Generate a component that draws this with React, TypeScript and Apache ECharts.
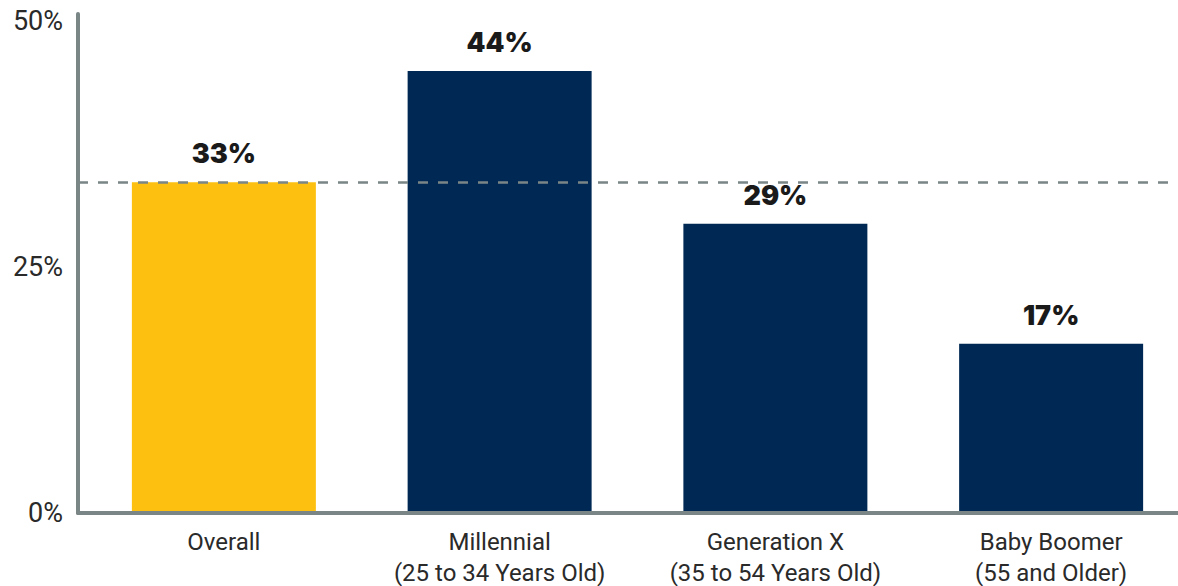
import React, { useEffect, useRef } from "react";
import * as echarts from "echarts";

const categories = [
  "Overall",
  "Millennial\n(25 to 34 Years Old)",
  "Generation X\n(35 to 54 Years Old)",
  "Baby Boomer\n(55 and Older)",
];
const values = [33.6, 44.9, 29.4, 17.2];
const valueLabels = ["33%", "44%", "29%", "17%"];
const barColors = ["#FDC010", "#002855", "#002855", "#002855"];
const yTicks = [0, 25, 50];
const yMax = 50.7;

export default function App() {
  const ref = useRef<HTMLDivElement>(null);
  useEffect(() => {
    if (!ref.current) return;
    const chart = echarts.init(ref.current, null, { renderer: "svg" });
    const axisColor = "#7A8585";
    chart.setOption({
      animation: false,
      grid: [
        { left: 78, right: 9, top: 14, bottom: 73, outerBoundsMode: "none", containLabel: false },
        { left: 86, width: 1103, top: 14, bottom: 73, outerBoundsMode: "none", containLabel: false },
      ],
      xAxis: [
        {
          type: "category",
          gridIndex: 0,
          data: categories,
          z: 5,
          axisLine: { show: true, lineStyle: { color: axisColor, width: 4 } },
          axisTick: { show: false },
          axisLabel: { show: false },
        },
        {
          type: "category",
          gridIndex: 1,
          data: categories,
          z: 5,
          axisLine: { show: true, lineStyle: { color: axisColor, width: 4 } },
          axisTick: { show: false },
          axisLabel: {
            interval: 0,
            hideOverlap: false,
            color: "#2a2a2a",
            fontFamily: "Roboto",
            fontSize: 24,
            lineHeight: 31,
            margin: 13,
          },
        },
      ],
      yAxis: [
        {
          type: "value",
          gridIndex: 0,
          min: 0,
          max: yMax,
          z: 5,
          axisLine: { show: true, lineStyle: { color: axisColor, width: 4 } },
          axisTick: { show: false },
          splitLine: { show: false },
          axisLabel: {
            customValues: yTicks,
            formatter: (v: number) => `${v}%`,
            color: "#2a2a2a",
            fontFamily: "Roboto",
            fontSize: 27,
            margin: 15,
          },
        },
        {
          type: "value",
          gridIndex: 1,
          min: 0,
          max: yMax,
          show: false,
          splitLine: { show: false },
        },
      ],
      series: [
        {
          type: "line",
          xAxisIndex: 0,
          yAxisIndex: 0,
          data: values,
          symbol: "none",
          silent: true,
          lineStyle: { opacity: 0 },
          markLine: {
            silent: true,
            symbol: "none",
            label: { show: false },
            lineStyle: { color: axisColor, type: [10, 10], width: 2.5 },
            data: [{ yAxis: values[0] }],
          },
        },
        {
          type: "bar",
          xAxisIndex: 1,
          yAxisIndex: 1,
          barWidth: 184,
          data: values.map((v, i) => ({
            value: v,
            itemStyle: { color: barColors[i] },
            label: { formatter: valueLabels[i] },
          })),
          label: {
            show: true,
            position: "top",
            distance: 15,
            color: "#1a1a1a",
            fontFamily: "Inter",
            fontWeight: 900,
            fontSize: 27,
          },
        },
      ],
    });
    return () => chart.dispose();
  }, []);
  return <div ref={ref} style={{ width: 1178, height: 586, position: "absolute", left: 0, top: 0 }} />;
}
